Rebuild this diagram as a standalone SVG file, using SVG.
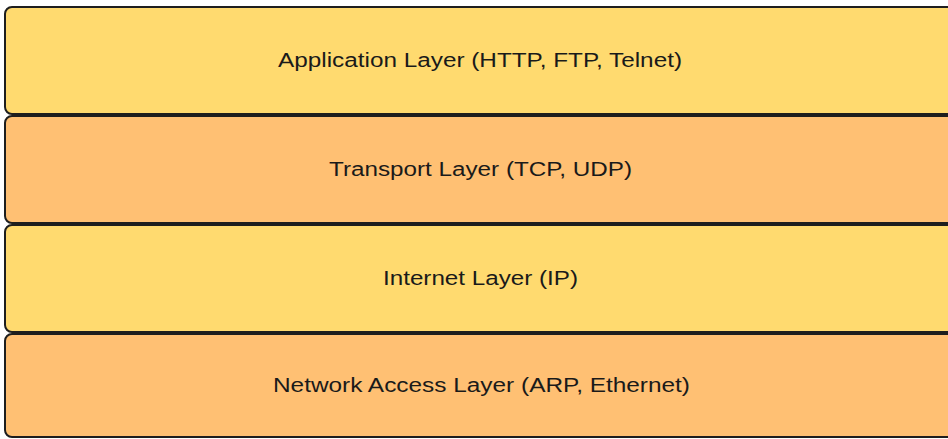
<svg xmlns="http://www.w3.org/2000/svg" width="948" height="439" viewBox="0 0 948 439">
  <style>
    .box { stroke: #1e1e1e; stroke-width: 2; }
    .yellow { fill: #FFDA6F; }
    .orange { fill: #FFC073; }
    .label { font-family: "Liberation Sans", Arial, sans-serif; font-size: 20px; fill: #1a1a1a; }
  </style>
  <rect width="948" height="439" fill="#ffffff"/>
  <g id="application-layer">
    <rect class="box yellow" x="5" y="7" width="960" height="107" rx="7"/>
    <text class="label" x="278" y="67" textLength="404" lengthAdjust="spacingAndGlyphs">Application Layer (HTTP, FTP, Telnet)</text>
  </g>
  <g id="transport-layer">
    <rect class="box orange" x="5" y="116" width="960" height="107" rx="7"/>
    <text class="label" x="329" y="176" textLength="303" lengthAdjust="spacingAndGlyphs">Transport Layer (TCP, UDP)</text>
  </g>
  <g id="internet-layer">
    <rect class="box yellow" x="5" y="225" width="960" height="107" rx="7"/>
    <text class="label" x="383" y="285" textLength="195" lengthAdjust="spacingAndGlyphs">Internet Layer (IP)</text>
  </g>
  <g id="network-access-layer">
    <rect class="box orange" x="5" y="334" width="960" height="103" rx="7"/>
    <text class="label" x="273" y="392" textLength="417" lengthAdjust="spacingAndGlyphs">Network Access Layer (ARP, Ethernet)</text>
  </g>
  <g id="connectors"></g>
</svg>
